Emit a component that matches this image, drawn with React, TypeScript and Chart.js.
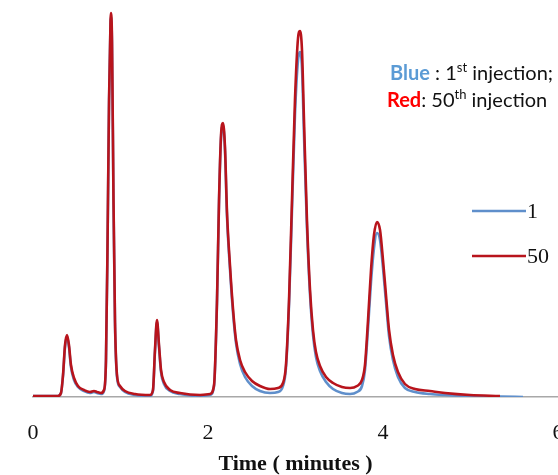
import React, { useEffect, useRef } from "react";
import { Chart, registerables } from "chart.js";

Chart.register(...registerables);

// ---- Data (time in minutes, detector response in arbitrary units) ----
const xTicks = [0, 2, 4, 6];
const seriesLabels = ["1", "50"];

const redTimes = [
  0, 0.286, 0.32, 0.343, 0.366, 0.389, 0.411, 0.434, 0.469, 0.514, 0.583, 0.651, 0.697, 0.731, 0.777,
  0.811, 0.834, 0.851, 0.869, 0.886, 0.891, 0.903, 0.92, 0.937, 0.96, 0.994, 1.051, 1.166, 1.337,
  1.371, 1.394, 1.417, 1.44, 1.463, 1.497, 1.566, 1.68, 1.909, 2.023, 2.069, 2.103, 2.126, 2.149,
  2.171, 2.194, 2.217, 2.251, 2.286, 2.32, 2.366, 2.423, 2.503, 2.594, 2.709, 2.8, 2.857, 2.891,
  2.926, 2.96, 2.994, 3.029, 3.051, 3.074, 3.097, 3.131, 3.166, 3.2, 3.234, 3.28, 3.349, 3.429,
  3.531, 3.623, 3.703, 3.76, 3.794, 3.829, 3.863, 3.897, 3.931, 3.966, 4.0, 4.034, 4.069, 4.114,
  4.171, 4.251, 4.366, 4.537, 4.709, 4.994, 5.337,
];
const redValues = [
  1, 1, 4, 22, 52, 62, 52, 32, 19, 11, 7, 5, 6, 5, 4,
  7, 37, 147, 297, 377, 384, 357, 197, 77, 22, 11, 6, 3, 2,
  7, 47, 77, 52, 27, 15, 7, 4, 2, 3, 12, 97, 197, 262,
  274, 250, 185, 132, 88, 57, 37, 25, 16, 11, 8, 9, 14, 32,
  97, 197, 297, 359, 366, 347, 277, 177, 107, 67, 45, 31, 20, 14,
  10, 9, 11, 17, 32, 77, 127, 162, 175, 167, 137, 102, 67, 42,
  25, 13, 8, 6, 4, 2, 1,
];

const blueTimes = [
  0, 0.286, 0.32, 0.343, 0.366, 0.389, 0.411, 0.434, 0.469, 0.514, 0.583, 0.651, 0.697, 0.731, 0.777,
  0.811, 0.834, 0.851, 0.869, 0.886, 0.891, 0.903, 0.92, 0.937, 0.96, 0.994, 1.051, 1.166, 1.337,
  1.371, 1.394, 1.417, 1.44, 1.463, 1.497, 1.566, 1.68, 1.909, 2.023, 2.069, 2.103, 2.126, 2.149,
  2.171, 2.194, 2.217, 2.251, 2.286, 2.32, 2.366, 2.423, 2.503, 2.594, 2.709, 2.8, 2.857, 2.891,
  2.926, 2.96, 2.994, 3.029, 3.051, 3.074, 3.097, 3.131, 3.166, 3.2, 3.234, 3.28, 3.349, 3.429,
  3.531, 3.623, 3.703, 3.76, 3.794, 3.829, 3.863, 3.897, 3.931, 3.966, 4.0, 4.034, 4.069, 4.114,
  4.171, 4.251, 4.366, 4.537, 4.709, 4.994, 5.337, 5.6,
];
const blueValues = [
  1, 1, 4, 21, 50, 60, 50, 30, 17, 10, 6, 4, 5, 4, 3,
  6, 36, 145, 294, 374, 380, 352, 193, 74, 20, 10, 5, 2, 1,
  6, 45, 75, 50, 25, 13, 6, 3, 1, 2, 11, 95, 195, 259,
  271, 247, 181, 128, 84, 54, 33, 20, 11, 6, 4, 5, 11, 29,
  92, 187, 282, 337, 345, 329, 262, 169, 102, 62, 40, 26, 15, 8,
  4, 3, 5, 11, 27, 69, 115, 149, 164, 157, 129, 95, 61, 37,
  20, 9, 5, 3, 2, 1, 0.5, 0,
];

const BLUE = "#5f8fcb";
const RED = "#b8141c";

function toPoints(xs: number[], ys: number[]) {
  return xs.map((x, i) => ({ x, y: ys[i] }));
}

const overlayPlugin = {
  id: "overlay",
  afterDraw(chart: any) {
    const ctx: CanvasRenderingContext2D = chart.ctx;
    ctx.save();
    // Legend
    const legend = [
      { label: seriesLabels[0], color: BLUE, y: 211 },
      { label: seriesLabels[1], color: RED, y: 256 },
    ];
    legend.forEach((item) => {
      ctx.strokeStyle = item.color;
      ctx.lineWidth = 2.5;
      ctx.beginPath();
      ctx.moveTo(472, item.y);
      ctx.lineTo(526, item.y);
      ctx.stroke();
      ctx.fillStyle = "#111";
      ctx.font = '22px "Liberation Serif"';
      ctx.textBaseline = "middle";
      ctx.textAlign = "left";
      ctx.fillText(item.label, 527, item.y + 1);
    });

    // Annotation
    const drawRuns = (
      x: number,
      y: number,
      runs: { t: string; c: string; b?: boolean; sup?: boolean }[]
    ) => {
      let cx = x;
      ctx.textBaseline = "alphabetic";
      runs.forEach((r) => {
        const size = r.sup ? 13 : 20;
        ctx.font = `${r.b ? "bold " : ""}${size}px Lato`;
        ctx.fillStyle = r.c;
        ctx.fillText(r.t, cx, r.sup ? y - 8 : y);
        cx += ctx.measureText(r.t).width;
      });
    };
    drawRuns(390, 80, [
      { t: "Blue", c: "#5b9bd5", b: true },
      { t: " : 1", c: "#111" },
      { t: "st", c: "#111", sup: true },
      { t: " injection;", c: "#111" },
    ]);
    drawRuns(387, 107, [
      { t: "Red", c: "#ff0000", b: true },
      { t: ": 50", c: "#111" },
      { t: "th", c: "#111", sup: true },
      { t: " injection", c: "#111" },
    ]);
    ctx.restore();
  },
};

export default function App() {
  const ref = useRef<HTMLCanvasElement>(null);
  useEffect(() => {
    document.body.style.margin = "0";
    const canvas = ref.current!;
    const chart = new Chart(canvas, {
      type: "line",
      data: {
        datasets: [
          {
            label: seriesLabels[1],
            data: toPoints(redTimes, redValues),
            borderColor: RED,
            borderWidth: 2.6,
            pointRadius: 0,
            cubicInterpolationMode: "monotone",
            fill: false,
            order: 0,
          },
          {
            label: seriesLabels[0],
            data: toPoints(blueTimes, blueValues),
            borderColor: BLUE,
            borderWidth: 2.6,
            pointRadius: 0,
            cubicInterpolationMode: "monotone",
            fill: false,
            order: 1,
          },
        ],
      },
      options: {
        animation: false,
        responsive: false,
        parsing: true,
        layout: { padding: { left: 33, right: 0, top: 5, bottom: 0 } },
        plugins: { legend: { display: false }, tooltip: { enabled: false } },
        scales: {
          x: {
            type: "linear",
            min: 0,
            max: 6,
            afterBuildTicks: (scale: any) => {
              scale.ticks = xTicks.map((v) => ({ value: v }));
            },
            afterFit: (scale: any) => {
              scale.height = 78;
              scale.paddingLeft = 0;
              scale.paddingRight = 0;
            },
            grid: { display: false, drawTicks: false },
            border: { display: true, color: "#a8a8a8", width: 1.5 },
            ticks: {
              padding: 23,
              color: "#111",
              font: { family: "Liberation Serif", size: 22 },
              maxRotation: 0,
              autoSkip: false,
            },
            title: {
              display: true,
              text: "Time ( minutes )",
              color: "#111",
              padding: { top: 0, bottom: 0 },
              font: { family: "Liberation Serif", size: 22, weight: "bold", lineHeight: 1 },
            },
          },
          y: { display: false, min: 0, max: 392 },
        },
      },
      plugins: [overlayPlugin],
    });
    return () => chart.destroy();
  }, []);
  return <canvas ref={ref} width={558} height={475} style={{ display: "block" }} />;
}
